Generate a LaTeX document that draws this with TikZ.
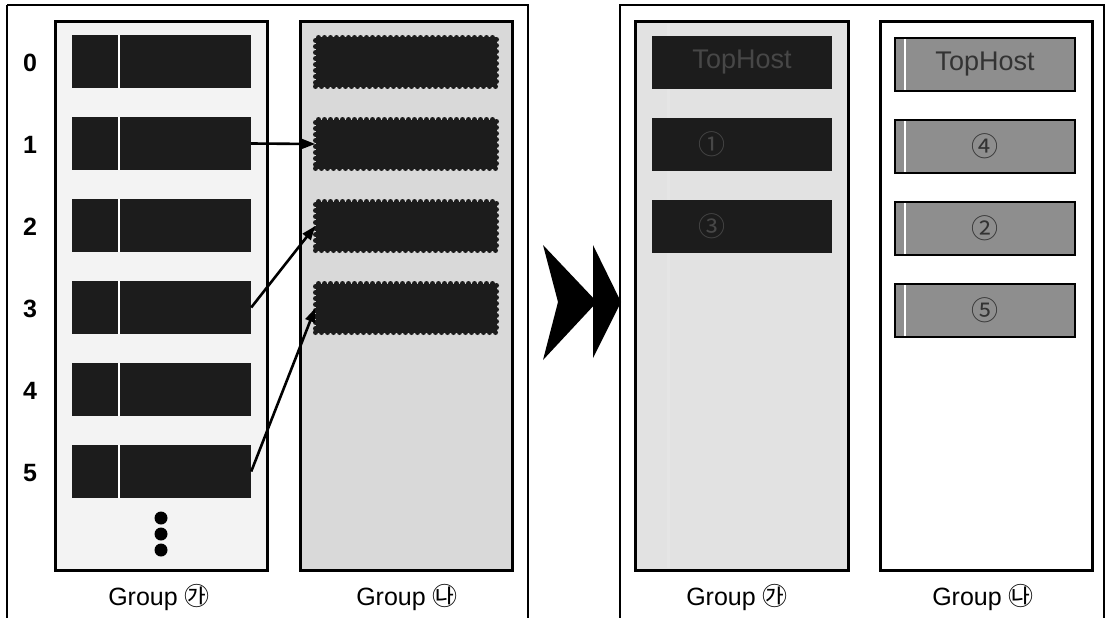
\documentclass[tikz,border=0pt]{standalone}
\usepackage{fontspec}
\setmainfont{Liberation Sans}
\newfontfamily\kofont{Noto Sans CJK KR}
\usetikzlibrary{arrows.meta}
\definecolor{blk}{HTML}{1C1C1C}
\definecolor{midgray}{HTML}{8E8E8E}
\definecolor{panelA}{HTML}{F3F3F3}
\definecolor{panelB}{HTML}{D9D9D9}
\definecolor{panelC}{HTML}{E2E2E2}
\begin{document}
\begin{tikzpicture}[x=1pt,y=-1pt,
  frame/.style={draw=black,line width=2.2pt},
  panel/.style={draw=black,line width=3pt},
  darkblk/.style={rectangle,fill=blk,minimum width=179pt,minimum height=53pt,inner sep=0pt,text=black!72,font=\fontsize{27}{29}\selectfont},
  wavyblk/.style={rectangle,fill=blk,minimum width=181pt,minimum height=49pt,inner sep=0pt,
     postaction={draw=blk,line width=5pt,dash pattern=on 0pt off 6pt,line cap=round}},
  grayblk/.style={rectangle,fill=midgray,draw=black,line width=2.2pt,minimum width=180pt,minimum height=53pt,inner sep=0pt,text=black!80,font=\fontsize{27}{29}\selectfont},
  rowlbl/.style={font=\bfseries\fontsize{25}{27}\selectfont},
  grplbl/.style={font=\fontsize{25}{27}\selectfont},
  arr/.style={line width=2.6pt,-{Triangle[length=14pt,width=10pt]}},
  dot/.style={circle,fill=black,minimum size=13pt,inner sep=0pt}
]
\useasboundingbox (0,0) rectangle (1108,618);
\fill[white] (0,0) rectangle (1108,618);
% outer frames
\draw[frame] (7,5) -- (528,5) -- (528,640);
\draw[frame] (7,640) -- (7,5);
\draw[frame] (620,640) -- (620,5) -- (1104,5) -- (1104,640);
% panels
\draw[panel,fill=panelA] (55,22) rectangle (267,570);
\draw[panel,fill=panelB] (300,22) rectangle (512,570);
\draw[panel,fill=panelC] (635,22) rectangle (848,570);
\draw[panel,fill=white] (880,22) rectangle (1092,570);
% left group A blocks and labels
\foreach \k in {0,...,5}{
  \node[darkblk] (a\k) at (161.5,{61.5+82*\k}) {};
  \draw[white,line width=1.6pt] (119,{35+82*\k}) -- (119,{88+82*\k});
  \node[rowlbl] (n\k) at (30,{63+82*\k}) {\k};
}
\node[dot] (d1) at (161,518) {};
\node[dot] (d2) at (161,534) {};
\node[dot] (d3) at (161,550) {};
% left group B blocks
\foreach \k in {0,...,3}{
  \node[wavyblk] (b\k) at (406,{62+82*\k}) {};
}
\draw[arr] (a1.east) -- (b1.west);
\draw[arr] (a3.east) -- (b2.west);
\draw[arr] (a5.east) -- (b3.west);
\node[grplbl] (ga1) at (159,598) {Group {\kofont ㉮}};
\node[grplbl] (gb1) at (407,598) {Group {\kofont ㉯}};
% big double chevron
\fill[black] (543,245) -- (597,302) -- (543,360) -- (558,302) -- cycle;
\fill[black] (593,245) -- (621,302) -- (593,358) -- cycle;
% right group A
\draw[white!80!gray,line width=3pt] (668,24) -- (668,568);
\node[darkblk,minimum width=180pt] (c0) at (742,62.5) {TopHost};
\node[darkblk,minimum width=180pt] (c1) at (742,144.5) {\hspace*{-60pt}{\kofont ①}};
\node[darkblk,minimum width=180pt] (c2) at (742,226.5) {\hspace*{-60pt}{\kofont ③}};
% right group B
\foreach \k/\t in {0/TopHost,1/{\kofont ④},2/{\kofont ②},3/{\kofont ⑤}}{
  \node[grayblk] (e\k) at (985,{64.5+82*\k}) {\t};
  \draw[white,line width=2pt] (905,{39+82*\k}) -- (905,{90+82*\k});
}
\node[grplbl] (ga2) at (737,598) {Group {\kofont ㉮}};
\node[grplbl] (gb2) at (983,598) {Group {\kofont ㉯}};
\end{tikzpicture}
\end{document}
